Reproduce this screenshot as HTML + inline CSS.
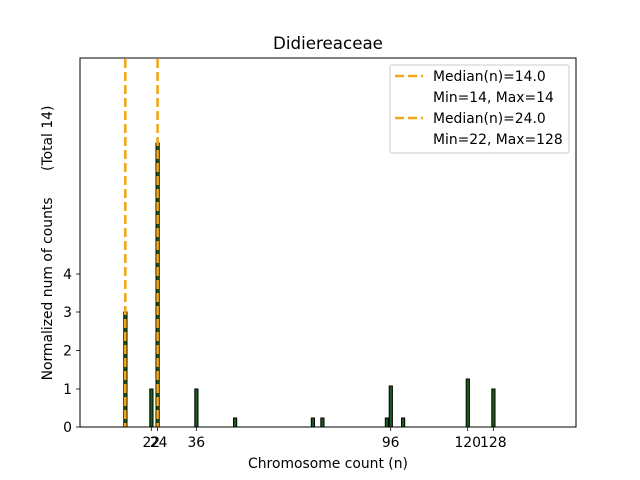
<!DOCTYPE html>
<html><head><meta charset="utf-8"><style>body{margin:0;background:#fff}svg{display:block}</style></head>
<body>
<svg width="640" height="480" xmlns="http://www.w3.org/2000/svg" font-family="DejaVu Sans, Liberation Sans, sans-serif">
<rect width="640" height="480" fill="#fff"/>
<line x1="80" y1="427" x2="137" y2="427" stroke="#bbb" stroke-width="1"/>
<g fill="#1a5c1a" stroke="#000" stroke-width="1">
<rect x="123.8" y="312" width="3.2" height="115"/>
<rect x="149.8" y="389" width="3.2" height="38"/>
<rect x="156" y="143" width="3.2" height="284"/>
<rect x="194.8" y="389" width="3.2" height="38"/>
<rect x="233.5" y="418" width="3.2" height="9"/>
<rect x="311.3" y="418" width="3.2" height="9"/>
<rect x="320.8" y="418" width="3.2" height="9"/>
<rect x="385.3" y="418" width="3.2" height="9"/>
<rect x="389.2" y="386" width="3.2" height="41"/>
<rect x="401.5" y="418" width="3.2" height="9"/>
<rect x="466.2" y="379" width="3.2" height="48"/>
<rect x="491.8" y="389" width="3.2" height="38"/>
</g>
<g stroke="#f0a818" stroke-width="2.6" stroke-dasharray="9,4">
<line x1="125.3" y1="59" x2="125.3" y2="427"/>
<line x1="157.6" y1="59" x2="157.6" y2="427"/>
</g>
<rect x="80" y="58" width="496" height="369" fill="none" stroke="#000" stroke-width="1"/>
<g stroke="#000" stroke-width="0.8">
<line x1="151.3" y1="427" x2="151.3" y2="431"/>
<line x1="157.6" y1="427" x2="157.6" y2="431"/>
<line x1="196.3" y1="427" x2="196.3" y2="431"/>
<line x1="390.7" y1="427" x2="390.7" y2="431"/>
<line x1="467.7" y1="427" x2="467.7" y2="431"/>
<line x1="493.3" y1="427" x2="493.3" y2="431"/>
<line x1="76" y1="427" x2="80" y2="427"/>
<line x1="76" y1="389" x2="80" y2="389"/>
<line x1="76" y1="350.5" x2="80" y2="350.5"/>
<line x1="76" y1="312" x2="80" y2="312"/>
<line x1="76" y1="274" x2="80" y2="274"/>
</g>
<g font-size="13.9" fill="#000" text-anchor="middle">
<text x="151.3" y="447">22</text>
<text x="158.6" y="447">24</text>
<text x="196.3" y="447">36</text>
<text x="390.7" y="447">96</text>
<text x="467.7" y="447">120</text>
<text x="493.3" y="447">128</text>
</g>
<g font-size="13.9" fill="#000" text-anchor="end">
<text x="72" y="432">0</text>
<text x="72" y="394">1</text>
<text x="72" y="355.5">2</text>
<text x="72" y="317">3</text>
<text x="72" y="279">4</text>
</g>
<text x="328" y="468" font-size="13.9" text-anchor="middle">Chromosome count (n)</text>
<text transform="translate(52,243) rotate(-90)" font-size="13.9" text-anchor="middle" xml:space="preserve">Normalized num of counts      (Total 14)</text>
<text x="328" y="49" font-size="16.7" text-anchor="middle">Didiereaceae</text>
<rect x="390" y="65" width="179" height="88" rx="2" fill="#fff" stroke="#ccc" stroke-width="1"/>
<g stroke="#f0a818" stroke-width="2.6" stroke-dasharray="9,4">
<line x1="395" y1="76" x2="423" y2="76"/>
<line x1="395" y1="118" x2="423" y2="118"/>
</g>
<g font-size="13.9" fill="#000">
<text x="433" y="81">Median(n)=14.0</text>
<text x="433" y="102">Min=14, Max=14</text>
<text x="433" y="123">Median(n)=24.0</text>
<text x="433" y="144">Min=22, Max=128</text>
</g>
</svg>
</body></html>
